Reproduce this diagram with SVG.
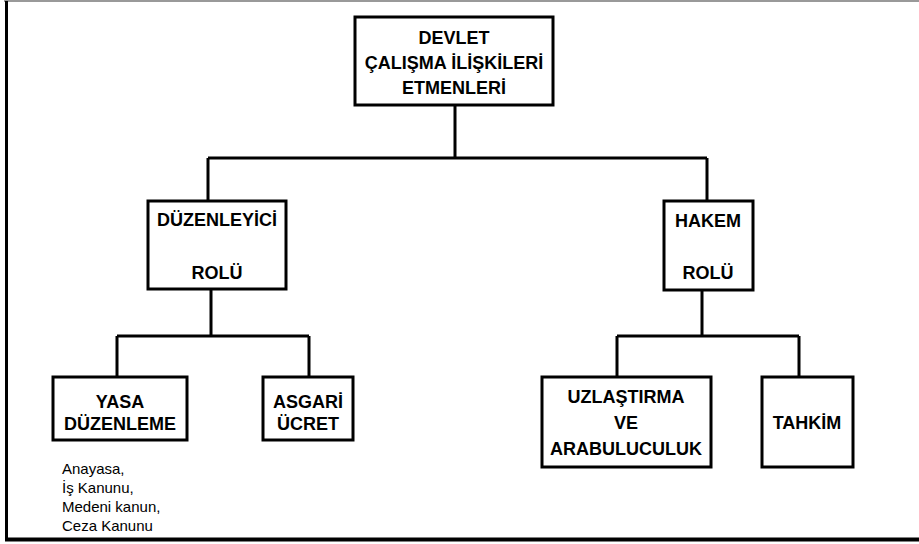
<svg xmlns="http://www.w3.org/2000/svg" width="919" height="544" viewBox="0 0 919 544">
<style>
.box{fill:#fff;stroke:#000;stroke-width:3}
.ln{fill:none;stroke:#000;stroke-width:3}
.t{font-family:"Liberation Sans",Arial,sans-serif;font-weight:bold;font-size:18px;fill:#000;text-anchor:middle}
.n{font-family:"Liberation Sans",Arial,sans-serif;font-size:15px;fill:#000}
</style>
<rect width="919" height="544" fill="#fff"/>
<g id="frame">
<line x1="4" y1="1" x2="919" y2="1" stroke="#999" stroke-width="2"/>
<line x1="6.5" y1="1" x2="6.5" y2="541" stroke="#000" stroke-width="3"/>
<line x1="5" y1="539.5" x2="919" y2="539.5" stroke="#000" stroke-width="4"/>
</g>
<g id="connectors">
<path class="ln" d="M455 105 V158 M208 158 H707 M208 158 V201 M707 158 V201"/>
<path class="ln" d="M211 289 V336 M117 336 H309 M117 336 V377 M309 336 V377"/>
<path class="ln" d="M702 290 V336 M617 336 H799 M617 336 V377 M799 336 V377"/>
</g>
<g id="devlet">
<rect class="box" x="355" y="17" width="198" height="88"/>
<text class="t" x="454" y="44">DEVLET</text>
<text class="t" x="454" y="69">ÇALIŞMA İLİŞKİLERİ</text>
<text class="t" x="454" y="94">ETMENLERİ</text>
</g>
<g id="duzenleyici">
<rect class="box" x="148" y="201" width="138" height="88"/>
<text class="t" x="217" y="226">DÜZENLEYİCİ</text>
<text class="t" x="217" y="279">ROLÜ</text>
</g>
<g id="hakem">
<rect class="box" x="664" y="201" width="89" height="89"/>
<text class="t" x="708" y="227">HAKEM</text>
<text class="t" x="708" y="279">ROLÜ</text>
</g>
<g id="yasa">
<rect class="box" x="53" y="377" width="134" height="63"/>
<text class="t" x="120" y="408">YASA</text>
<text class="t" x="120" y="430">DÜZENLEME</text>
</g>
<g id="asgari">
<rect class="box" x="263" y="377" width="90" height="63"/>
<text class="t" x="308" y="408">ASGARİ</text>
<text class="t" x="308" y="430">ÜCRET</text>
</g>
<g id="uzlastirma">
<rect class="box" x="542" y="377" width="169" height="90"/>
<text class="t" x="626" y="403">UZLAŞTIRMA</text>
<text class="t" x="626" y="429">VE</text>
<text class="t" x="626" y="455">ARABULUCULUK</text>
</g>
<g id="tahkim">
<rect class="box" x="762" y="377" width="91" height="90"/>
<text class="t" x="807" y="429">TAHKİM</text>
</g>
<g id="note">
<text class="n" x="62" y="474">Anayasa,</text>
<text class="n" x="62" y="493">İş Kanunu,</text>
<text class="n" x="62" y="512">Medeni kanun,</text>
<text class="n" x="62" y="531">Ceza Kanunu</text>
</g>
</svg>
